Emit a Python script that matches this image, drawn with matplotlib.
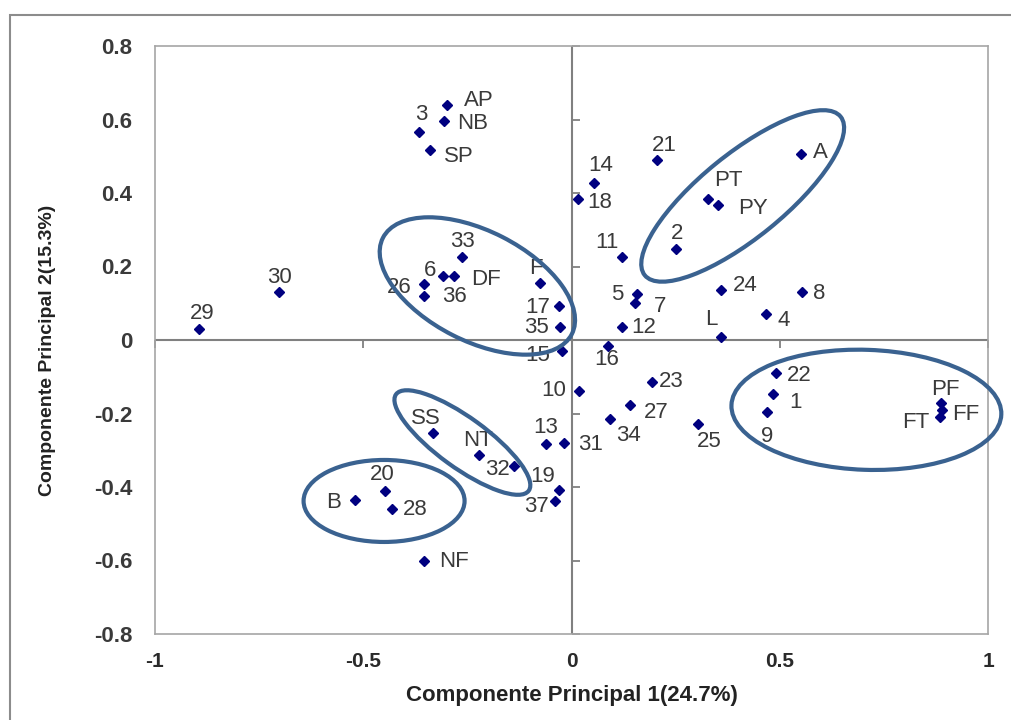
import matplotlib
matplotlib.use("Agg")
import matplotlib.pyplot as plt
from matplotlib.patches import Ellipse, Rectangle
from matplotlib.transforms import ScaledTranslation

plt.rcParams["font.family"] = ["Liberation Sans", "DejaVu Sans"]

# accession / variety labels with their scores on the first two components
names = ["AP", "NB", "3", "SP", "33", "6", "DF", "26", "36", "30", "29", "F", "17",
         "35", "15", "14", "18", "21", "A", "PT", "PY", "2", "11", "24", "8", "5",
         "7", "4", "12", "L", "16", "22", "23", "10", "27", "34", "25", "31", "1",
         "9", "PF", "FF", "FT", "SS", "NT", "32", "13", "19", "37", "20", "B",
         "28", "NF"]
pc1 = [-0.299, -0.305, -0.367, -0.340, -0.264, -0.309, -0.281, -0.353, -0.353,
       -0.702, -0.894, -0.075, -0.030, -0.027, -0.022, 0.055, 0.015, 0.206, 0.550,
       0.328, 0.352, 0.250, 0.122, 0.360, 0.554, 0.158, 0.153, 0.466, 0.122,
       0.358, 0.087, 0.492, 0.194, 0.018, 0.141, 0.093, 0.304, -0.019, 0.484,
       0.469, 0.886, 0.889, 0.884, -0.332, -0.223, -0.137, -0.061, -0.030,
       -0.039, -0.448, -0.520, -0.430, -0.353]
pc2 = [0.640, 0.597, 0.566, 0.518, 0.226, 0.175, 0.175, 0.152, 0.120, 0.131,
       0.029, 0.154, 0.092, 0.036, -0.029, 0.428, 0.385, 0.489, 0.507, 0.385,
       0.368, 0.247, 0.225, 0.136, 0.130, 0.124, 0.101, 0.070, 0.036, 0.009,
       -0.015, -0.091, -0.113, -0.138, -0.177, -0.216, -0.228, -0.280, -0.147,
       -0.195, -0.171, -0.190, -0.209, -0.252, -0.313, -0.344, -0.283, -0.408,
       -0.439, -0.412, -0.435, -0.459, -0.602]

x_ticks = [-1, -0.5, 0, 0.5, 1]
x_tick_labels = ["-1", "-0.5", "0", "0.5", "1"]
y_ticks = [0.8, 0.6, 0.4, 0.2, 0, -0.2, -0.4, -0.6, -0.8]
y_tick_labels = ["0.8", "0.6", "0.4", "0.2", "0", "-0.2", "-0.4", "-0.6", "-0.8"]

# label placement: (dx px, dy px screen-down, horizontal alignment)
label_pos = {
    "AP": (17, -4, "left"), "NB": (13, 3, "left"), "3": (3, -17, "center"),
    "SP": (14, 7, "left"), "33": (1, -15, "center"), "6": (-13, -5, "center"),
    "DF": (17, 4, "left"), "26": (-13, 3, "right"), "36": (18, 1, "left"),
    "30": (0, -14, "center"), "29": (3, -16, "center"), "F": (-4, -15, "center"),
    "17": (-9, 1, "right"), "35": (-11, 1, "right"), "15": (-12, 5, "right"),
    "14": (6, -17, "center"), "18": (10, 4, "left"), "21": (7, -15, "center"),
    "A": (12, -1, "left"), "PT": (20, -18, "center"), "PY": (20, 4, "left"),
    "2": (1, -16, "center"), "11": (-15, -15, "center"), "24": (11, -5, "left"),
    "8": (11, 1, "left"), "5": (-14, 0, "right"), "7": (19, 4, "left"),
    "4": (12, 6, "left"), "12": (9, 1, "left"), "L": (-9, -17, "center"),
    "16": (-1, 14, "center"), "22": (10, 2, "left"), "23": (7, 0, "left"),
    "10": (-13, 0, "right"), "27": (14, 7, "left"), "34": (6, 16, "left"),
    "25": (-1, 18, "left"), "31": (15, 2, "left"), "1": (16, 8, "left"),
    "9": (0, 25, "center"), "PF": (5, -13, "center"), "FF": (10, 5, "left"),
    "FT": (-10, 6, "right"), "SS": (-7, -14, "center"), "NT": (-1, -15, "center"),
    "32": (-5, 3, "right"), "13": (0, -17, "center"), "19": (-16, -13, "center"),
    "37": (-19, 5, "center"), "20": (-3, -17, "center"), "B": (-21, 3, "center"),
    "28": (10, 1, "left"), "NF": (15, 0, "left"),
}

# group ellipses: centre (data), width/height (px), angle (deg)
groups = [
    ((-0.226, 0.147), 212, 110, -27),
    ((0.411, 0.392), 252, 84, 39),
    ((0.708, -0.190), 270, 120, -2),
    ((-0.262, -0.279), 164, 50, -36),
    ((-0.450, -0.438), 161, 82, 0),
]

fig = plt.figure(figsize=(10.11, 7.2), dpi=100)
fig.patches.append(Rectangle((10 / 1011, -0.1), 1.2, 1.1 - 15 / 720,
                             transform=fig.transFigure, fill=False,
                             edgecolor="#8c8c8c", linewidth=1.5))

ax = fig.add_axes([155 / 1011, 86 / 720, 833 / 1011, 588 / 720])
ax.set_xlim(-1, 1)
ax.set_ylim(-0.8, 0.8)
for sp in ax.spines.values():
    sp.set_color("#a6a6a6")
    sp.set_linewidth(1.2)

ax.set_xticks(x_ticks)
ax.set_xticklabels(x_tick_labels, fontsize=15, fontweight="bold", color="#2a2a2a")
ax.set_yticks(y_ticks)
ax.set_yticklabels(y_tick_labels, fontsize=16, fontweight="bold", color="#3a3a3a")
ax.tick_params(axis="both", length=0)
ax.tick_params(axis="x", pad=13)
ax.tick_params(axis="y", pad=16.5)

# zero axes with tick marks
ax.axhline(0, color="#808080", lw=1.5, zorder=1)
ax.axvline(0, color="#808080", lw=1.5, zorder=1)
ax.plot(x_ticks, [0] * len(x_ticks), ls="none", marker=3, ms=6,
        mec="#808080", mew=1.3, zorder=1, clip_on=False)
ax.plot([0] * len(y_ticks), y_ticks, ls="none", marker=1, ms=6,
        mec="#808080", mew=1.3, zorder=1, clip_on=False)

ax.plot(pc1, pc2, ls="none", marker="D", ms=5.2, color="#000080", zorder=3)

for name, x, y in zip(names, pc1, pc2):
    dx, dy, ha = label_pos[name]
    ax.annotate(name, (x, y), xytext=(dx, -dy), textcoords="offset pixels",
                ha=ha, va="center", fontsize=16, color="#3a3a3a", zorder=4)

for (cx, cy), w, h, ang in groups:
    tr = fig.dpi_scale_trans + ScaledTranslation(cx, cy, ax.transData)
    ax.add_patch(Ellipse((0, 0), w / 100, h / 100, angle=ang, transform=tr,
                         fill=False, edgecolor="#3a6290", linewidth=3,
                         zorder=5, clip_on=False))

ax.set_xlabel("Componente Principal 1(24.7%)", fontsize=16, fontweight="bold",
              color="#222222", va="center")
ax.xaxis.set_label_coords(0.5, -0.104)
ax.set_ylabel("Componente Principal 2(15.3%)", fontsize=14, fontweight="bold",
              color="#222222", va="center")
ax.yaxis.set_label_coords(-0.1285, 0.483)

fig.savefig("out.png", dpi=100)
